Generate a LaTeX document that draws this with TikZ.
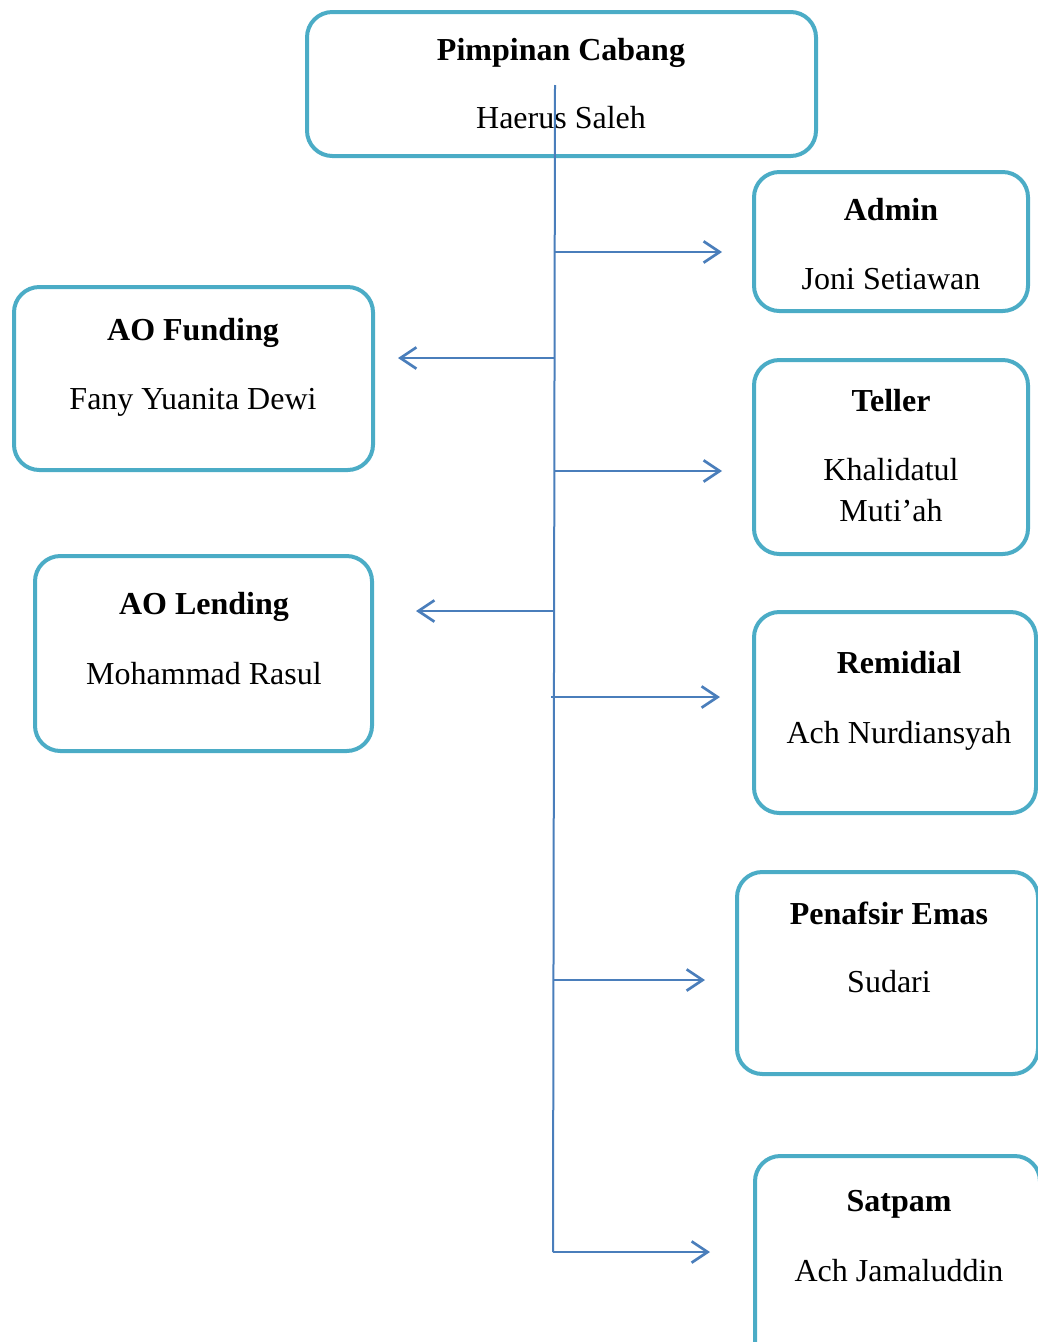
\documentclass[tikz,border=0pt]{standalone}
\usepackage{fontspec}
\setmainfont{Liberation Serif}
\usetikzlibrary{arrows.meta,fit}
\definecolor{boxteal}{RGB}{75,172,198}
\definecolor{lineblue}{RGB}{74,126,187}
\tikzset{
  orgbox/.style={draw=boxteal, line width=3pt, rounded corners=19pt, inner sep=0pt},
  ttl/.style={anchor=base, font=\fontsize{24}{29}\selectfont\bfseries, inner sep=0pt},
  nm/.style={anchor=base, font=\fontsize{24}{29}\selectfont, inner sep=0pt},
  trunk/.style={draw=lineblue, line width=1.5pt},
  branch/.style={draw=lineblue, line width=1.6pt, -{Straight Barb[length=12pt,width=16pt,line width=2pt]}}
}
\begin{document}
\begin{tikzpicture}[x=0.75pt,y=-0.75pt]
\useasboundingbox (0,0) rectangle (1038,1342);
\clip (0,0) rectangle (1038,1342);
% boxes
\node[orgbox, fit={(307,12) (816,156)}] (pc) {};
\node[orgbox, fit={(754,172) (1028,311)}] (adm) {};
\node[orgbox, fit={(14,287) (373,470)}] (aof) {};
\node[orgbox, fit={(754,360) (1028,554)}] (tel) {};
\node[orgbox, fit={(35,556) (372,751)}] (aol) {};
\node[orgbox, fit={(754,612) (1036,813)}] (rem) {};
\node[orgbox, fit={(737,872) (1038,1074)}] (pen) {};
\node[orgbox, fit={(755,1156) (1040,1370)}] (sat) {};
% texts
\node[ttl] (pct) at (561,60) {Pimpinan Cabang};
\node[nm] (pcn) at (561,128) {Haerus Saleh};
\node[ttl] (admt) at (891,220) {Admin};
\node[nm] (admn) at (891,289) {Joni Setiawan};
\node[ttl] (aoft) at (193,340) {AO Funding};
\node[nm] (aofn) at (193,409) {Fany Yuanita Dewi};
\node[ttl] (telt) at (891,411) {Teller};
\node[nm] (teln1) at (891,480) {Khalidatul};
\node[nm] (teln2) at (891,521) {Muti’ah};
\node[ttl] (aolt) at (204,614) {AO Lending};
\node[nm] (aoln) at (204,684) {Mohammad Rasul};
\node[ttl] (remt) at (899,673) {Remidial};
\node[nm] (remn) at (899,743) {Ach Nurdiansyah};
\node[ttl] (pent) at (889,924) {Penafsir Emas};
\node[nm] (penn) at (889,992) {Sudari};
\node[ttl] (satt) at (899,1211) {Satpam};
\node[nm] (satn) at (899,1281) {Ach Jamaluddin};
% connectors
\coordinate (top) at (555,85);
\coordinate (bot) at (553,1252);
\draw[trunk] (top) -- (bot);
\coordinate (j1) at (554.7,252); \coordinate (e1) at (722,252);
\coordinate (j2) at (554.5,358); \coordinate (e2) at (398,358);
\coordinate (j3) at (554.3,471); \coordinate (e3) at (722,471);
\coordinate (j4) at (554.1,611); \coordinate (e4) at (416,611);
\coordinate (j5) at (551,697);   \coordinate (e5) at (720,697);
\coordinate (j6) at (553.5,980); \coordinate (e6) at (705,980);
\coordinate (j7) at (553,1252);  \coordinate (e7) at (710,1252);
\draw[branch] (j1) -- (e1);
\draw[branch] (j2) -- (e2);
\draw[branch] (j3) -- (e3);
\draw[branch] (j4) -- (e4);
\draw[branch] (j5) -- (e5);
\draw[branch] (j6) -- (e6);
\draw[branch] (j7) -- (e7);
\end{tikzpicture}
\end{document}
